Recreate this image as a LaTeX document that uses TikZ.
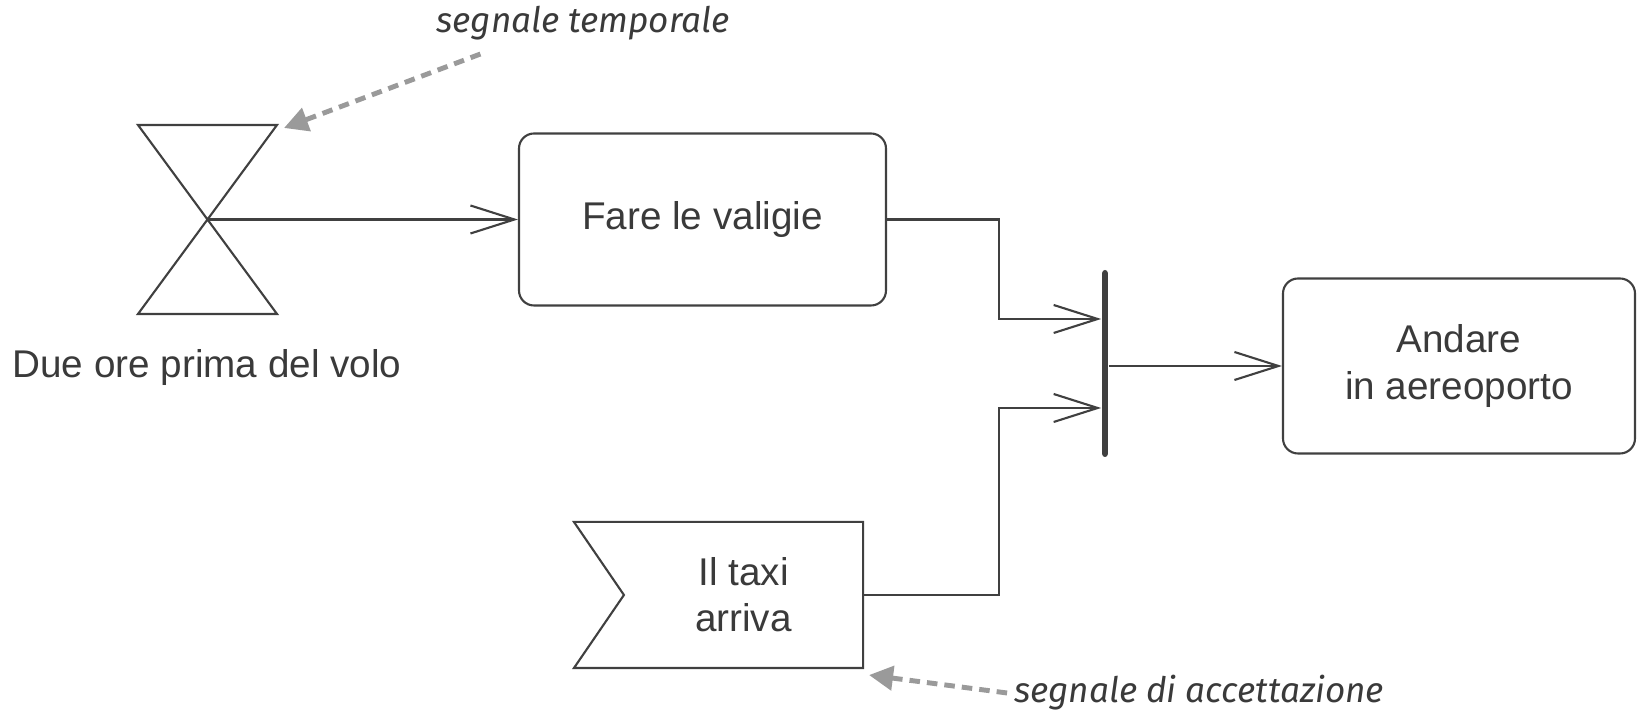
\documentclass[tikz,border=0pt]{standalone}
\usepackage{fontspec}
\setmainfont{Liberation Sans}
\newfontfamily\notefont{Fira Sans}
\usetikzlibrary{positioning, arrows.meta, calc}

\definecolor{linec}{HTML}{404040}
\definecolor{txtc}{HTML}{3A3A3A}
\definecolor{notec}{HTML}{9A9A9A}

\begin{document}
\begin{tikzpicture}[line width=.6pt,
  actbox/.style={draw=linec, rounded corners=1.5mm, text=txtc, align=center, font=\fontsize{11}{13.5}\selectfont, inner sep=0pt},
  flow/.style={linec, -{Straight Barb[length=4.4mm,width=2.8mm]}},
  note/.style={text=txtc, font=\notefont\itshape\fontsize{10}{12}\selectfont, inner sep=0pt},
  notearrow/.style={notec, line width=1.4pt, dash pattern=on 3pt off 2pt, -{Triangle[length=2.4mm,width=2.4mm]}}]
\useasboundingbox (0,0) rectangle (16.39,7.25);
% Hourglass
\coordinate (hgtl) at (1.38,6.00);
\coordinate (hgtr) at (2.77,6.00);
\coordinate (hgbl) at (1.38,4.11);
\coordinate (hgbr) at (2.77,4.11);
\coordinate (hg) at (2.075,5.055);
\draw[linec] (hgtl)--(hgtr)--(hgbl)--(hgbr)--cycle;
\node[text=txtc, font=\fontsize{11}{13.5}\selectfont, inner sep=0pt] (due) at (2.07,3.57) {Due ore prima del volo};
% Action boxes
\node[actbox, minimum width=3.67cm, minimum height=1.72cm] (fare) at (7.025,5.055) {Fare le valigie};
\node[actbox, minimum width=3.52cm, minimum height=1.75cm] (andare) at (14.59,3.59) {Andare\\in aereoporto};
% Taxi signal
\node[text=txtc, align=center, font=\fontsize{11}{13}\selectfont, minimum width=2.37cm, minimum height=1.44cm, inner sep=0pt] (taxi) at (7.435,1.30) {Il taxi\\arriva};
\draw[linec] (taxi.north east) -- ([xshift=-5mm]taxi.north west) -- (taxi.west) -- ([xshift=-5mm]taxi.south west) -- (taxi.south east) -- cycle;
% Join bar
\node[fill=linec, minimum width=1.6pt, minimum height=1.87cm, inner sep=0pt, rounded corners=.8pt] (join) at (11.05,3.615) {};
% Arrows
\draw[flow] (hg) -- (fare.west);
\draw[flow] (fare.east) -- ++(1.12,0) |- ([yshift=4.45mm]join.west);
\draw[flow] (taxi.east) -- ++(1.36,0) |- ([yshift=-4.45mm]join.west);
\draw[flow] (join.east |- andare.west) -- (andare.west);
% Notes
\node[note] (tnote) at (5.83,7.02) {segnale temporale};
\draw[notearrow] ([xshift=4.5mm,yshift=-1.3mm]tnote.south west) -- ([shift={(0.07,-0.03)}]hgtr);
\node[note] (anote) at (11.99,0.32) {segnale di accettazione};
\draw[notearrow] ([xshift=-.6mm]anote.west) -- ([shift={(0.06,-0.07)}]taxi.south east);
\end{tikzpicture}
\end{document}
